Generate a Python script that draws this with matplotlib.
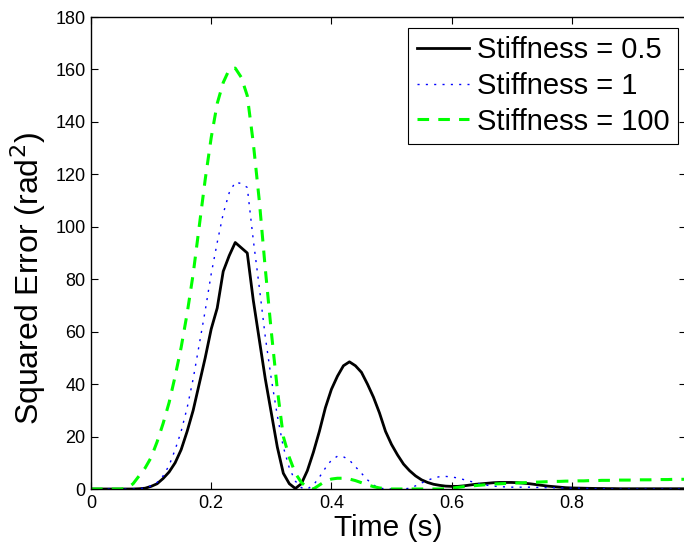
import numpy as np
import matplotlib
matplotlib.use("Agg")
import matplotlib.pyplot as plt

plt.rcParams['font.family'] = ['Liberation Sans', 'DejaVu Sans']

time = [round(0.01 * i, 2) for i in range(100)]

stiff_05 = [0, 0, 0, 0, 0, 0, 0, 0, 0.1, 0.3,
            1, 2, 4, 6.5, 10, 15, 22, 30, 40, 50,
            61, 69, 83, 89, 94, 92, 90, 72, 57, 42,
            29, 16, 6, 2, 0.2, 2, 7, 14, 22, 31,
            38, 43, 47, 48.5, 47, 44.5, 40, 35, 29, 22,
            17, 13, 9.5, 7, 5, 3.5, 2.5, 1.8, 1.4, 1.1,
            1.0, 1.0, 1.2, 1.5, 1.8, 2.0, 2.2, 2.4, 2.5, 2.5,
            2.5, 2.4, 2.2, 2.0, 1.7, 1.4, 1.1, 0.9, 0.7, 0.5,
            0.4, 0.35, 0.3, 0.25, 0.2, 0.2, 0.15, 0.15, 0.1, 0.1,
            0.1, 0.1, 0.1, 0.1, 0.1, 0.1, 0.1, 0.1, 0.1, 0.1]

stiff_1 = [0, 0, 0, 0, 0, 0, 0, 0, 0.1, 0.4,
           1.2, 2.5, 5, 9, 15, 22, 31, 42, 55, 68,
           82, 94, 105, 113, 117, 116.5, 115, 95, 77, 58,
           42, 28, 16, 8, 3, 0.5, 0, 1.5, 4.5, 8,
           11, 12.5, 12.3, 11, 8.5, 6, 3.5, 1.5, 0.4, 0,
           0, 0, 0, 0.3, 1.2, 2.3, 3.3, 4.2, 4.7, 4.8,
           4.6, 4.2, 3.6, 3.0, 2.4, 1.8, 1.4, 1.1, 0.9, 0.8,
           0.7, 0.7, 0.7, 0.7, 0.6, 0.6, 0.5, 0.5, 0.4, 0.4,
           0.3, 0.3, 0.2, 0.2, 0.1, 0.1, 0.1, 0, 0, 0,
           0, 0, 0, 0, 0, 0, 0, 0, 0, 0]

stiff_100 = [0, 0, 0, 0, 0, 0, 0.3, 2, 5, 8,
             12, 18, 25, 33, 43, 54, 67, 82, 100, 118,
             134, 147, 155, 160, 160.5, 157, 150, 132, 110, 84,
             60, 38, 20, 12, 6, 2.5, 0.5, 0, 1.5, 3,
             3.8, 4.1, 4.1, 3.8, 3.2, 2.4, 1.6, 0.9, 0.4, 0.1,
             0, 0, 0, 0, 0, 0, 0, 0, 0, 0.1,
             0.3, 0.6, 0.9, 1.1, 1.3, 1.5, 1.7, 1.9, 2.0, 2.1,
             2.2, 2.3, 2.4, 2.5, 2.6, 2.7, 2.8, 2.9, 2.9, 3.0,
             3.0, 3.1, 3.1, 3.2, 3.2, 3.3, 3.3, 3.3, 3.4, 3.4,
             3.4, 3.5, 3.5, 3.5, 3.6, 3.6, 3.6, 3.7, 3.7, 3.7]

labels = ['Stiffness = 0.5', 'Stiffness = 1', 'Stiffness = 100']
xticks = [0, 0.2, 0.4, 0.6, 0.8]
xticklabels = ['0', '0.2', '0.4', '0.6', '0.8']
yticks = list(range(0, 181, 20))

W, H = 684, 546
fig = plt.figure(figsize=(W / 100, H / 100), dpi=100)
ax = fig.add_axes([91 / W, 1 - 489 / H, 595 / W, (489 - 17) / H])

ax.plot(time, stiff_05, color='black', lw=2.0, ls='-', label=labels[0])
ax.plot(time, stiff_1, color='blue', lw=1.0, ls=(0, (1.5, 4.5)), label=labels[1])
ax.plot(time, stiff_100, color='#00ff00', lw=2.2, ls=(0, (3.8, 3.0)), label=labels[2])

ax.set_xlim(0, 0.99)
ax.set_ylim(0, 180)
ax.set_xticks(xticks)
ax.set_xticklabels(xticklabels)
ax.set_yticks(yticks)
ax.tick_params(direction='in', top=True, right=True, length=5, width=0.8,
               labelsize=13, pad=4)
for s in ax.spines.values():
    s.set_linewidth(1.0)

ax.set_xlabel('Time (s)', fontsize=21.5, labelpad=2)
ax.set_ylabel('Squared Error (rad$^2$)', fontsize=23, labelpad=5)
ax.yaxis.label.set_y(0.445)

leg = ax.legend(loc='upper right', fontsize=21, frameon=True, fancybox=False,
                edgecolor='black', framealpha=1, borderpad=0.3,
                labelspacing=0.26, handlelength=1.8, handletextpad=0.25,
                borderaxespad=0.0,
                bbox_to_anchor=(678 / W, 1 - 27.7 / H),
                bbox_transform=fig.transFigure)
leg.get_frame().set_linewidth(0.8)

fig.savefig('out.png', dpi=100)
